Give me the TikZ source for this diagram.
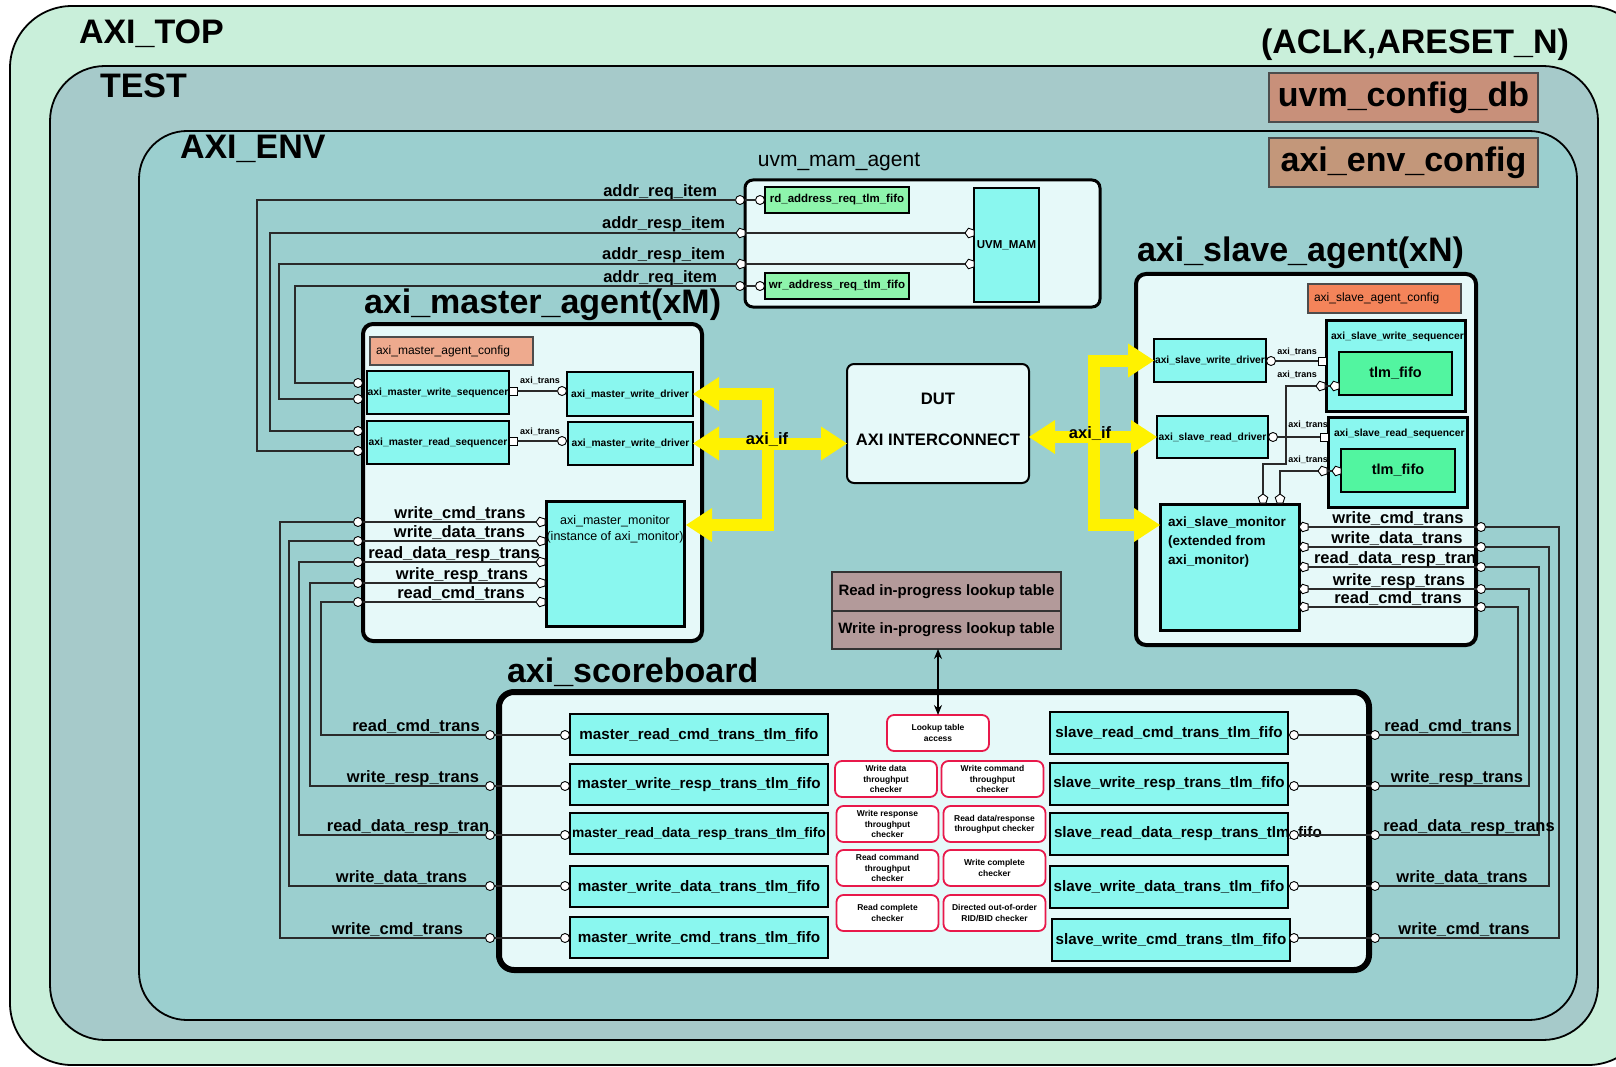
\documentclass[tikz,border=0pt]{standalone}
\usepackage{fontspec}
\setmainfont{Liberation Sans}
\usetikzlibrary{arrows.meta,shapes.geometric}

\definecolor{topfill}{HTML}{C9EFDA}
\definecolor{testfill}{HTML}{A6CACA}
\definecolor{envfill}{HTML}{9BCFCF}
\definecolor{agentfill}{HTML}{E6F9F9}
\definecolor{cyanfill}{HTML}{8AF7EF}
\definecolor{mamgreen}{HTML}{8EF5AC}
\definecolor{fifogreen}{HTML}{52F5A0}
\definecolor{mcfgfill}{HTML}{EEAA8E}
\definecolor{scfgfill}{HTML}{F4845A}
\definecolor{dbfill}{HTML}{C8907A}
\definecolor{envcfgfill}{HTML}{C3977A}
\definecolor{lookfill}{HTML}{B39A9A}
\definecolor{chkred}{HTML}{E8194B}
\definecolor{busyel}{HTML}{FFF200}
\definecolor{wire}{HTML}{2A2A2A}

\begin{document}
\begin{tikzpicture}[x=1pt, y=-1pt,
  every node/.style={inner sep=0pt, outer sep=0pt},
  bigb/.style={font=\fontsize{34}{40}\selectfont\bfseries},
  sig/.style={font=\fontsize{16.5}{19}\selectfont\bfseries},
  fifot/.style={font=\fontsize{15.2}{18}\selectfont\bfseries},
  smallb/.style={font=\fontsize{10.3}{12}\selectfont\bfseries},
  tinyb/.style={font=\fontsize{9}{10}\selectfont\bfseries},
  cont/.style={draw=black, line width=1.8pt},
  agentbox/.style={draw=black, line width=4pt, fill=agentfill, rounded corners=10pt},
  cbox/.style={draw=black, line width=1.6pt, fill=cyanfill},
  fifobox/.style={cbox, line width=2pt, minimum height=41pt, fifot},
  cfgbox/.style={draw=black!70, line width=1.4pt, inner xsep=6pt, align=left, font=\fontsize{12}{14}\selectfont},
  port/.style={circle, draw=black, fill=white, line width=0.9pt, minimum size=9pt},
  sqport/.style={rectangle, draw=black, fill=white, line width=0.9pt, minimum size=8pt},
  pport/.style={regular polygon, regular polygon sides=5, draw=black, fill=white, line width=0.9pt, minimum size=10pt, shape border rotate=90},
  wireln/.style={draw=wire, line width=1.1pt},
  chk/.style={draw=chkred, line width=1.8pt, fill=white, rounded corners=7pt, minimum width=102pt, minimum height=36pt, align=center, font=\fontsize{8.5}{10.3}\selectfont\bfseries},
  bustip/.style={Triangle[width=34pt,length=26pt,line width=0pt]},
  bus/.style={draw=busyel, line width=12pt, line join=miter, {Triangle[width=34pt,length=26pt,line width=0pt]}-{Triangle[width=34pt,length=26pt,line width=0pt]}}
]
\useasboundingbox (0,0) rectangle (1616,1067);
\fill[white] (0,0) rectangle (1616,1067);

% nested containers
\node[cont, fill=topfill, rounded corners=62pt, minimum width=1640pt, minimum height=1059pt] (axitop) at (830,535.5) {};
\node[cont, fill=testfill, rounded corners=55pt, minimum width=1548pt, minimum height=974pt] (test) at (824,553) {};
\node[cont, fill=envfill, rounded corners=48pt, minimum width=1438pt, minimum height=889pt] (env) at (858,575.5) {};

\node[bigb, anchor=west] (ltop) at (79,34) {AXI\_TOP};
\node[bigb, anchor=east] (lclk) at (1569,45) {(ACLK,ARESET\_N)};
\node[bigb, anchor=west] (ltest) at (100,86) {TEST};
\node[bigb, anchor=west] (lenv) at (180,149) {AXI\_ENV};

\node[draw=black!70, line width=1.5pt, fill=dbfill, minimum width=269pt, minimum height=49pt, bigb] (cfgdb) at (1403.5,97.5) {uvm\_config\_db};
\node[draw=black!70, line width=1.5pt, fill=envcfgfill, minimum width=269pt, minimum height=49pt, bigb] (envcfg) at (1403.5,162.5) {axi\_env\_config};

% uvm_mam_agent
\node[font=\fontsize{21}{25}\selectfont] (mamlbl) at (839,162) {uvm\_mam\_agent};
\node[draw=black, line width=3pt, fill=agentfill, rounded corners=8pt, minimum width=355pt, minimum height=127pt] (mam) at (922.5,243.5) {};
\node[draw=black, line width=1.5pt, fill=mamgreen, minimum width=144pt, minimum height=26pt, font=\fontsize{11.5}{13}\selectfont\bfseries] (rdfifo) at (837,200) {rd\_address\_req\_tlm\_fifo};
\node[draw=black, line width=1.5pt, fill=mamgreen, minimum width=144pt, minimum height=26pt, font=\fontsize{11.5}{13}\selectfont\bfseries] (wrfifo) at (837,286) {wr\_address\_req\_tlm\_fifo};
\node[cbox, minimum width=65pt, minimum height=114pt, font=\fontsize{11.5}{13}\selectfont\bfseries] (uvmmam) at (1006.5,245) {UVM\_MAM};

\node[port] (mp1) at (740,200) {};
\node[port] (mp1i) at (760,200) {};
\node[pport] (mp2) at (741,233) {};
\node[pport] (mp2i) at (970,233) {};
\node[pport] (mp3) at (741,264) {};
\node[pport] (mp3i) at (970,264) {};
\node[port] (mp4) at (740,286) {};
\node[port] (mp4i) at (760,286) {};
\draw[wireln] (mp1) -- (mp1i);
\draw[wireln] (mp2) -- (mp2i);
\draw[wireln] (mp3) -- (mp3i);
\draw[wireln] (mp4) -- (mp4i);

\node[sig, anchor=base east] (la1) at (717,197) {addr\_req\_item};
\node[sig, anchor=base east] (la2) at (725,229) {addr\_resp\_item};
\node[sig, anchor=base east] (la3) at (725,260) {addr\_resp\_item};
\node[sig, anchor=base east] (la4) at (717,282) {addr\_req\_item};

% axi_master_agent
\node[bigb, anchor=west] (maglbl) at (364,305) {axi\_master\_agent(xM)};
\node[agentbox, minimum width=339pt, minimum height=317pt] (mag) at (532.5,482.5) {};
\node[cfgbox, fill=mcfgfill, text width=151pt, minimum height=28pt] (mcfg) at (451.5,351) {axi\_master\_agent\_config};
\node[cbox, minimum width=142pt, minimum height=43pt, smallb] (mwseq) at (438,392.5) {axi\_master\_write\_sequencer};
\node[cbox, minimum width=126pt, minimum height=44pt, smallb] (mwdrv) at (630,394) {axi\_master\_write\_driver};
\node[cbox, minimum width=142pt, minimum height=43pt, smallb] (mrseq) at (438,442.5) {axi\_master\_read\_sequencer};
\node[cbox, minimum width=125pt, minimum height=43pt, smallb] (mrdrv) at (630.5,443.5) {axi\_master\_write\_driver};

\node[sqport] (mwsq) at (513,391) {};
\node[port] (mwdc) at (562,391) {};
\draw[wireln] (mwsq) -- (mwdc);
\node[tinyb] (mwtr) at (540,381) {axi\_trans};
\node[sqport] (mrsq) at (513,441) {};
\node[port] (mrdc) at (562,441) {};
\draw[wireln] (mrsq) -- (mrdc);
\node[tinyb] (mrtr) at (540,432) {axi\_trans};

\node[draw=black, line width=3pt, fill=cyanfill, minimum width=138pt, minimum height=125pt] (mmon) at (615,563.5) {};
\node[align=center, font=\fontsize{12.5}{16}\selectfont] (mmont) at (615,529) {axi\_master\_monitor\\(instance of axi\_monitor)};

% master agent ports towards the uvm_mam_agent
\node[port] (ma1) at (358,383) {};
\node[port] (ma2) at (358,399) {};
\node[port] (ma3) at (358,431) {};
\node[port] (ma4) at (358,451) {};

% master monitor analysis ports
\node[pport] (mmp1) at (541,522) {};
\node[pport] (mmp2) at (541,541) {};
\node[pport] (mmp3) at (541,562) {};
\node[pport] (mmp4) at (541,583) {};
\node[pport] (mmp5) at (541,602) {};
\node[port] (map1) at (358,522) {};
\node[port] (map2) at (358,541) {};
\node[port] (map3) at (358,562) {};
\node[port] (map4) at (358,583) {};
\node[port] (map5) at (358,602) {};
\foreach \i in {1,...,5} { \draw[wireln] (map\i) -- (mmp\i); }
\node[sig, anchor=base] (mml1) at (460,518) {write\_cmd\_trans};
\node[sig, anchor=base] (mml2) at (459.5,537) {write\_data\_trans};
\node[sig, anchor=base] (mml3) at (454,558) {read\_data\_resp\_trans};
\node[sig, anchor=base] (mml4) at (462,579) {write\_resp\_trans};
\node[sig, anchor=base] (mml5) at (461,598) {read\_cmd\_trans};

% routing between uvm_mam_agent and master sequencers
\coordinate (trA1) at (257,300);
\coordinate (trA2) at (270,300);
\coordinate (trA3) at (279,300);
\coordinate (trA4) at (295,300);
\draw[wireln] (mp1.west) -| (ma4.west -| trA1) -- (ma4.west);
\draw[wireln] (mp2.west) -| (ma3.west -| trA2) -- (ma3.west);
\draw[wireln] (mp3.west) -| (ma2.west -| trA3) -- (ma2.west);
\draw[wireln] (mp4.west) -| (ma1.west -| trA4) -- (ma1.west);

% axi_slave_agent
\node[bigb, anchor=west] (saglbl) at (1137,253) {axi\_slave\_agent(xN)};
\node[agentbox, minimum width=340pt, minimum height=371pt] (sag) at (1306,459.5) {};
\node[cfgbox, fill=scfgfill, text width=141pt, minimum height=29pt] (scfg) at (1384.5,298.5) {axi\_slave\_agent\_config};
\node[cbox, minimum width=112pt, minimum height=43pt, smallb] (swdrv) at (1210,360.5) {axi\_slave\_write\_driver};
\node[draw=black, line width=3pt, fill=cyanfill, minimum width=139pt, minimum height=91pt] (swseq) at (1395.5,365.5) {};
\node[smallb, anchor=west] (swseqt) at (1331,337) {axi\_slave\_write\_sequencer};
\node[draw=black, line width=2pt, fill=fifogreen, minimum width=113pt, minimum height=43pt, font=\fontsize{14.5}{17}\selectfont\bfseries] (tf1) at (1395.5,373.5) {tlm\_fifo};
\node[cbox, minimum width=111pt, minimum height=42pt, smallb] (srdrv) at (1212.5,437) {axi\_slave\_read\_driver};
\node[draw=black, line width=3pt, fill=cyanfill, minimum width=139pt, minimum height=90pt] (srseq) at (1397.5,462) {};
\node[smallb, anchor=west] (srseqt) at (1334,434) {axi\_slave\_read\_sequencer};
\node[draw=black, line width=2pt, fill=fifogreen, minimum width=114pt, minimum height=43pt, font=\fontsize{14.5}{17}\selectfont\bfseries] (tf2) at (1398,470.5) {tlm\_fifo};
\node[draw=black, line width=3pt, fill=cyanfill, minimum width=139pt, minimum height=126pt] (smon) at (1229.5,567) {};
\node[align=left, anchor=west, font=\fontsize{13.5}{19}\selectfont\bfseries] (smont) at (1168,542) {axi\_slave\_monitor\\(extended from\\axi\_monitor)};

\node[port] (swdc) at (1271,361) {};
\node[sqport] (swsq) at (1322,361) {};
\draw[wireln] (swdc) -- (swsq);
\node[tinyb] (swtr1) at (1297,352) {axi\_trans};
\node[pport] (swp) at (1321,386) {};
\node[pport] (swpi) at (1335,386) {};
\draw[wireln] (swp) -- (swpi);
\node[tinyb] (swtr2) at (1297,375) {axi\_trans};
\node[pport, shape border rotate=0] (smt1) at (1263,499) {};
\coordinate (jw) at (1286,464);
\draw[wireln] (swp.west) -| (jw) -| (smt1.north);

\node[port] (srdc) at (1273,437) {};
\node[sqport] (srsq) at (1324,437) {};
\draw[wireln] (srdc) -- (srsq);
\node[tinyb] (srtr1) at (1308,425) {axi\_trans};
\node[pport] (srp) at (1323,471) {};
\node[pport] (srpi) at (1337,471) {};
\draw[wireln] (srp) -- (srpi);
\node[tinyb] (srtr2) at (1308,460) {axi\_trans};
\node[pport, shape border rotate=0] (smt2) at (1280,499) {};
\draw[wireln] (srp.west) -| (smt2.north);

% slave monitor analysis ports
\node[pport] (smp1) at (1304,527) {};
\node[pport] (smp2) at (1304,547) {};
\node[pport] (smp3) at (1304,567) {};
\node[pport] (smp4) at (1304,589) {};
\node[pport] (smp5) at (1304,607) {};
\node[port] (sap1) at (1481,527) {};
\node[port] (sap2) at (1481,547) {};
\node[port] (sap3) at (1481,567) {};
\node[port] (sap4) at (1481,589) {};
\node[port] (sap5) at (1481,607) {};
\foreach \i in {1,...,5} { \draw[wireln] (smp\i) -- (sap\i); }
\node[sig, anchor=base] (sml1) at (1398,523) {write\_cmd\_trans};
\node[sig, anchor=base] (sml2) at (1397,543) {write\_data\_trans};
\begin{scope}
  \clip (sag.north west) rectangle (sag.south east);
  \node[sig, anchor=base west] (sml3) at (1314,563) {read\_data\_resp\_trans};
\end{scope}
\node[sig, anchor=base] (sml4) at (1399,585) {write\_resp\_trans};
\node[sig, anchor=base] (sml5) at (1398,603) {read\_cmd\_trans};

% DUT
\node[draw=black, line width=2pt, fill=agentfill, rounded corners=7pt, minimum width=182pt, minimum height=119pt] (dut) at (938,423.5) {};
\node[font=\fontsize{16.6}{19}\selectfont\bfseries] (dutt1) at (938,399) {DUT};
\node[font=\fontsize{16.6}{19}\selectfont\bfseries] (dutt2) at (938,440) {AXI INTERCONNECT};

% axi_if buses
\coordinate (ybL) at (768,443);
\coordinate (mmonIn) at (686,525);
\draw[bus] (mwdrv.east) -- (mwdrv.east -| ybL) -- (ybL |- mmonIn) -- (mmonIn);
\draw[bus] (mrdrv.east) -- (mrdrv.east -| dut.west);
\coordinate (ybR) at (1094,437);
\coordinate (smonIn) at (1160,525);
\draw[bus] (swdrv.west) -- (swdrv.west -| ybR) -- (ybR |- smonIn) -- (smonIn);
\draw[bus] (srdrv.west -| dut.east) -- (srdrv.west);
\node[sig] (ifL) at (767,440) {axi\_if};
\node[sig] (ifR) at (1090,434) {axi\_if};

% lookup tables
\node[draw=black!80, line width=1.5pt, fill=lookfill, minimum width=229pt, minimum height=39pt, font=\fontsize{15}{18}\selectfont\bfseries] (lkr) at (946.5,591.5) {Read in-progress lookup table};
\node[draw=black!80, line width=1.5pt, fill=lookfill, minimum width=229pt, minimum height=38pt, font=\fontsize{15}{18}\selectfont\bfseries] (lkw) at (946.5,630) {Write in-progress lookup table};

% axi_scoreboard
\node[bigb, anchor=west] (sblbl) at (507,672) {axi\_scoreboard};
\node[draw=black, line width=6pt, fill=agentfill, rounded corners=15pt, minimum width=870pt, minimum height=278pt] (sb) at (934,831) {};

\node[chk] (lka) at (938,733) {Lookup table\\access};
\draw[{Stealth[length=10pt,width=8pt]}-{Stealth[length=10pt,width=8pt]}, line width=1.3pt] (lkw.south -| lka.north) -- (lka.north);
\node[chk] (c11) at (886,779) {Write data\\throughput\\checker};
\node[chk] (c12) at (992.5,779) {Write command\\throughput\\checker};
\node[chk] (c21) at (887.5,824) {Write response\\throughput\\checker};
\node[chk] (c22) at (994.5,824) {Read data/response\\throughput checker};
\node[chk] (c31) at (887.5,868) {Read command\\throughput\\checker};
\node[chk] (c32) at (994.5,868) {Write complete\\checker};
\node[chk] (c41) at (887.5,913) {Read complete\\checker};
\node[chk] (c42) at (994.5,913) {Directed out-of-order\\RID/BID checker};

\node[fifobox, minimum width=258pt] (mf1) at (699,734.5) {master\_read\_cmd\_trans\_tlm\_fifo};
\node[fifobox, minimum width=258pt] (mf2) at (699,784.5) {master\_write\_resp\_trans\_tlm\_fifo};
\node[fifobox, minimum width=258pt, font=\fontsize{13.8}{16}\selectfont\bfseries] (mf3) at (699,833.5) {master\_read\_data\_resp\_trans\_tlm\_fifo};
\node[fifobox, minimum width=258pt] (mf4) at (699,886.5) {master\_write\_data\_trans\_tlm\_fifo};
\node[fifobox, minimum width=258pt] (mf5) at (699,937.5) {master\_write\_cmd\_trans\_tlm\_fifo};

\node[fifobox, minimum width=238pt, minimum height=42pt] (sf1) at (1169,733) {slave\_read\_cmd\_trans\_tlm\_fifo};
\node[fifobox, minimum width=238pt, minimum height=42pt] (sf2) at (1169,784) {slave\_write\_resp\_trans\_tlm\_fifo};
\node[fifobox, minimum width=238pt, minimum height=42pt] (sf3) at (1169,834) {};
\node[fifot, anchor=west] (sf3t) at (1054,834) {slave\_read\_data\_resp\_trans\_tlm\_fifo};
\node[fifobox, minimum width=238pt, minimum height=42pt] (sf4) at (1169,887) {slave\_write\_data\_trans\_tlm\_fifo};
\node[fifobox, minimum width=238pt, minimum height=42pt] (sf5) at (1171,939.5) {slave\_write\_cmd\_trans\_tlm\_fifo};

% scoreboard ports, master side
\node[port] (sl1) at (490,735) {};
\node[port] (sl2) at (490,786) {};
\node[port] (sl3) at (490,835) {};
\node[port] (sl4) at (490,886) {};
\node[port] (sl5) at (490,938) {};
\node[port] (sl1i) at (565,735) {};
\node[port] (sl2i) at (565,786) {};
\node[port] (sl3i) at (565,835) {};
\node[port] (sl4i) at (565,886) {};
\node[port] (sl5i) at (565,938) {};
\foreach \i in {1,...,5} { \draw[wireln] (sl\i) -- (sl\i i); }

% scoreboard ports, slave side
\node[port] (sr1i) at (1294,735) {};
\node[port] (sr2i) at (1294,786) {};
\node[port] (sr3i) at (1294,835) {};
\node[port] (sr4i) at (1294,886) {};
\node[port] (sr5i) at (1294,938) {};
\node[port] (sr1) at (1375,735) {};
\node[port] (sr2) at (1375,786) {};
\node[port] (sr3) at (1375,835) {};
\node[port] (sr4) at (1375,886) {};
\node[port] (sr5) at (1375,938) {};
\foreach \i in {1,...,5} { \draw[wireln] (sr\i i) -- (sr\i); }

% master monitor to scoreboard
\coordinate (trL1) at (321,700);
\coordinate (trL2) at (310,700);
\coordinate (trL3) at (299,700);
\coordinate (trL4) at (289,700);
\coordinate (trL5) at (280,700);
\draw[wireln] (sl1.west) -| (map5.west -| trL1) -- (map5.west);
\draw[wireln] (sl2.west) -| (map4.west -| trL2) -- (map4.west);
\draw[wireln] (sl3.west) -| (map3.west -| trL3) -- (map3.west);
\draw[wireln] (sl4.west) -| (map2.west -| trL4) -- (map2.west);
\draw[wireln] (sl5.west) -| (map1.west -| trL5) -- (map1.west);

% slave monitor to scoreboard
\coordinate (trR1) at (1518,700);
\coordinate (trR2) at (1529,700);
\coordinate (trR3) at (1539,700);
\coordinate (trR4) at (1549,700);
\coordinate (trR5) at (1559,700);
\draw[wireln] (sr1.east) -| (sap5.east -| trR1) -- (sap5.east);
\draw[wireln] (sr2.east) -| (sap4.east -| trR2) -- (sap4.east);
\draw[wireln] (sr3.east) -| (sap3.east -| trR3) -- (sap3.east);
\draw[wireln] (sr4.east) -| (sap2.east -| trR4) -- (sap2.east);
\draw[wireln] (sr5.east) -| (sap1.east -| trR5) -- (sap1.east);

\node[sig, anchor=base] (sbl1) at (416,731) {read\_cmd\_trans};
\node[sig, anchor=base] (sbl2) at (413,782) {write\_resp\_trans};
\node[sig, anchor=base] (sbl3) at (408,831) {read\_data\_resp\_tran};
\node[sig, anchor=base] (sbl4) at (401.5,882) {write\_data\_trans};
\node[sig, anchor=base] (sbl5) at (397.5,934) {write\_cmd\_trans};
\node[sig, anchor=base] (sbr1) at (1448,731) {read\_cmd\_trans};
\node[sig, anchor=base] (sbr2) at (1457,782) {write\_resp\_trans};
\node[sig, anchor=base] (sbr3) at (1469,831) {read\_data\_resp\_trans};
\node[sig, anchor=base] (sbr4) at (1462,882) {write\_data\_trans};
\node[sig, anchor=base] (sbr5) at (1464,934) {write\_cmd\_trans};
\end{tikzpicture}
\end{document}
